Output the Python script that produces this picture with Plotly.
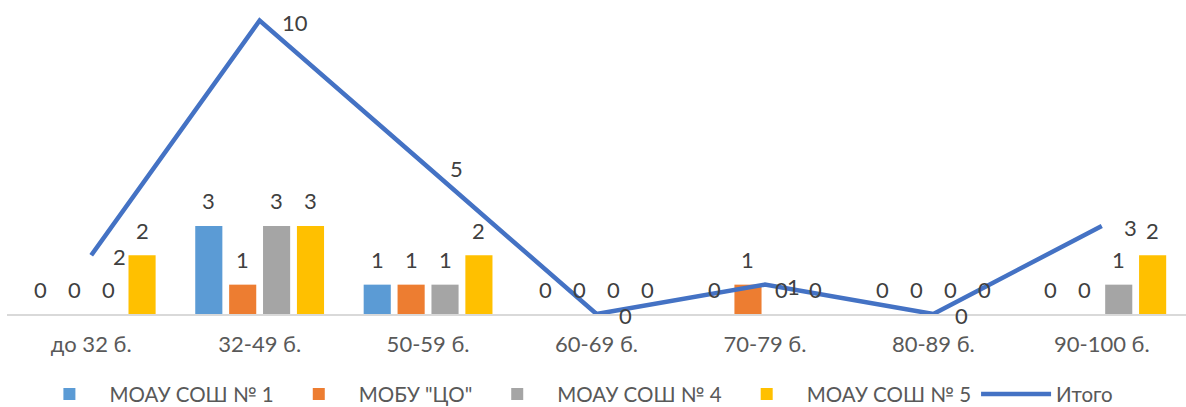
import plotly.graph_objects as go

categories = ["до 32 б.", "32-49 б.", "50-59 б.", "60-69 б.", "70-79 б.", "80-89 б.", "90-100 б."]
series_names = ["МОАУ СОШ № 1", "МОБУ \"ЦО\"", "МОАУ СОШ № 4", "МОАУ СОШ № 5"]
school1 = [0, 3, 1, 0, 0, 0, 0]
school_co = [0, 1, 1, 0, 1, 0, 0]
school4 = [0, 3, 1, 0, 0, 0, 1]
school5 = [2, 3, 2, 0, 0, 0, 2]
total_name = "Итого"
total = [2, 10, 5, 0, 1, 0, 3]

bar_colors = ["#5B9BD5", "#ED7D31", "#A5A5A5", "#FFC000"]
line_color = "#4472C4"
FONT = "Lato"
W, H = 1186, 407
ML, MR, MT, MB = 7, 0, 0, 93
BARGAP = 0.195

fig = go.Figure()
bar_series = [school1, school_co, school4, school5]
for name, vals, col in zip(series_names, bar_series, bar_colors):
    fig.add_trace(go.Bar(x=categories, y=vals, name=name, marker_color=col,
                         marker_line_width=0))

fig.add_trace(go.Scatter(x=categories, y=total, name=total_name, mode="lines",
                         line=dict(color=line_color, width=4.5)))

# data labels for bars (offset per series within the group)
cat_px = (W - ML - MR) / len(categories)
step = cat_px * (1 - BARGAP) / len(bar_series)
annotations = []
for i, vals in enumerate(bar_series):
    shift = (i - (len(bar_series) - 1) / 2) * step
    for c, v in zip(categories, vals):
        annotations.append(dict(x=c, y=v, text=str(v), showarrow=False,
                                xshift=shift, yshift=25, yanchor="middle",
                                font=dict(family=FONT, size=22, color="#404040")))
for c, v in zip(categories, total):
    annotations.append(dict(x=c, y=v, text=str(v), showarrow=False,
                            xanchor="left", xshift=20, yshift=-1.5, yanchor="middle",
                            font=dict(family=FONT, size=22, color="#404040")))

fig.update_layout(
    width=W, height=H,
    margin=dict(l=ML, r=MR, t=MT, b=MB, autoexpand=False),
    barmode="group", bargap=BARGAP, bargroupgap=0.2,
    plot_bgcolor="white", paper_bgcolor="white",
    font=dict(family=FONT, size=22, color="#595959"),
    showlegend=True,
    legend=dict(orientation="h", x=0.019, xanchor="left", y=-0.255, yanchor="middle",
                itemwidth=70, font=dict(family=FONT, size=20.5, color="#595959"),
                itemclick=False),
    annotations=annotations,
    xaxis=dict(showline=True, linecolor="#D9D9D9", linewidth=1.5, showgrid=False,
               ticks="", ticklabelstandoff=10, tickfont=dict(family=FONT, size=22, color="#595959")),
    yaxis=dict(range=[0, 10.7], visible=False, showgrid=False, zeroline=False),
)
fig.update_traces(cliponaxis=False)

fig.write_html("out.html", config={"displayModeBar": False},
               post_script="document.body.style.margin='0';")
